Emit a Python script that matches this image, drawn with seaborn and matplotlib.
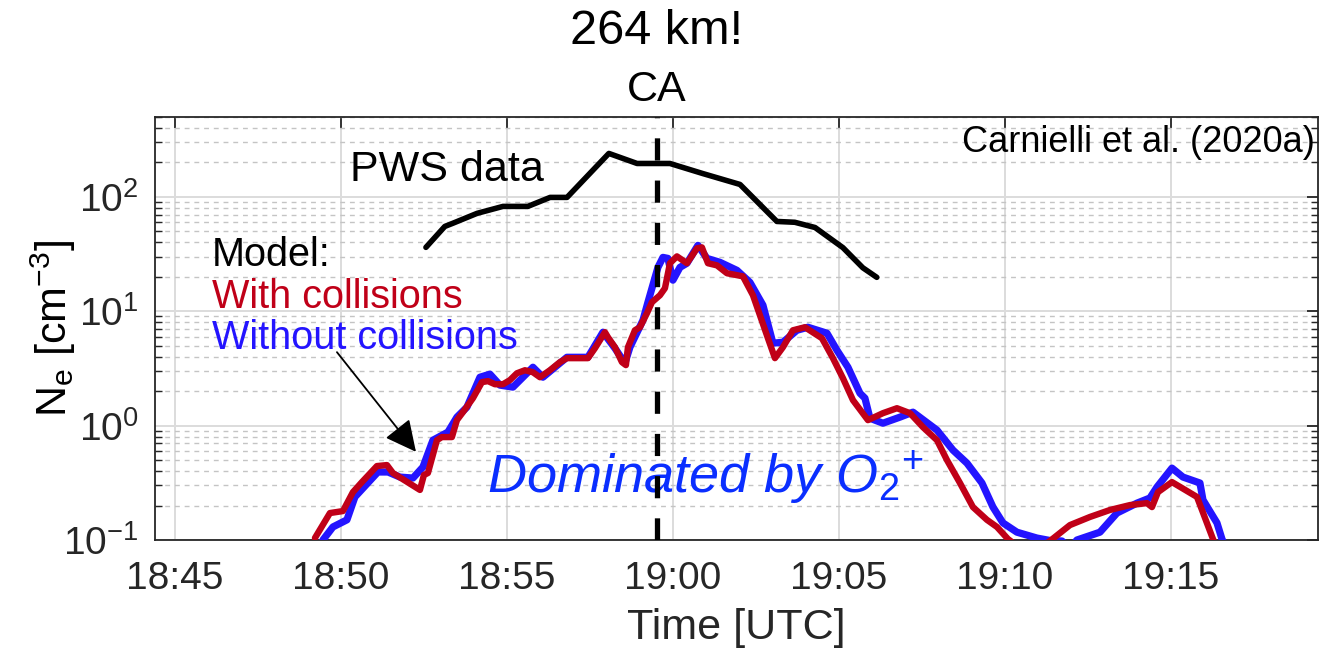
import numpy as np
import pandas as pd
import matplotlib
matplotlib.use("Agg")
import matplotlib.pyplot as plt
import matplotlib.ticker as mticker
import seaborn as sns

# ---------------- data (time in minutes after 18:45 UTC) ----------------
pws_t = [7.56, 8.13, 8.37, 9.10, 9.88, 10.63, 11.30, 11.81, 13.07, 13.92, 14.91,
         15.90, 17.02, 18.13, 18.67, 19.28, 20.12, 20.72, 21.14]
pws_ne = [36.2, 55.2, 58.8, 71.8, 82.6, 82.6, 99.0, 99.0, 240, 196, 196,
          160, 128.5, 61, 60, 54, 36, 24, 19.8]

red_t = [4.217, 4.669, 5.060, 5.361, 5.633, 6.084, 6.386, 6.566, 7.380, 7.500, 7.620,
         7.892, 8.042, 8.343, 8.494, 8.675, 8.976, 9.247, 9.428, 9.639, 9.880, 10.090,
         10.301, 10.542, 10.783, 10.994, 11.295, 11.596, 11.807, 12.440, 12.651, 12.952,
         13.042, 13.253, 13.464, 13.584, 13.645, 13.855, 14.006, 14.217, 14.367, 14.608,
         14.759, 14.910, 15.120, 15.422, 15.723, 15.873, 16.054, 16.325, 16.627, 17.108,
         17.410, 17.620, 17.861, 18.072, 18.313, 18.614, 18.976, 19.488, 19.819, 20.120,
         20.422, 20.873, 21.325, 21.747, 22.139, 22.530, 22.952, 23.253, 23.645, 24.036,
         24.458, 24.759, 25.090, 25.452, 25.900, 26.355, 26.958, 27.560, 28.163, 28.765,
         29.277, 29.428, 29.608, 30.030, 30.783, 30.934, 31.265, 31.416]
red_ne = [0.104, 0.172, 0.179, 0.262, 0.321, 0.443, 0.452, 0.385, 0.274, 0.370, 0.385,
          0.746, 0.794, 0.794, 1.117, 1.312, 1.738, 2.40, 2.45, 2.30, 2.30, 2.50,
          2.87, 3.05, 2.93, 2.65, 3.05, 3.59, 3.89, 3.89, 4.75, 6.56,
          5.93, 4.85, 3.59, 3.38, 4.85, 6.82, 7.25, 9.61, 12.0, 13.8,
          15.9, 26.3, 30.2, 26.3, 35.5, 36.2, 26.3, 25.2, 21.5, 20.2,
          13.8, 9.23, 5.81, 3.89, 4.85, 6.82, 7.25, 5.81, 3.89, 2.60,
          1.67, 1.117, 1.285, 1.42, 1.285, 0.97, 0.746, 0.50, 0.315, 0.194,
          0.150, 0.130, 0.102, 0.085, 0.080, 0.098, 0.135, 0.159, 0.183, 0.202,
          0.210, 0.194, 0.262, 0.321, 0.238, 0.183, 0.102, 0.082]

blue_t = [4.458, 4.759, 5.181, 5.422, 6.114, 6.416, 6.777, 7.169, 7.470, 7.771, 8.223,
          8.494, 8.795, 9.187, 9.488, 9.789, 10.181, 10.783, 11.084, 11.807, 12.440,
          12.892, 13.253, 13.554, 13.705, 14.096, 14.247, 14.548, 14.699, 14.849, 15.000,
          15.211, 15.422, 15.753, 16.024, 16.416, 16.928, 17.319, 17.711, 18.012, 18.313,
          18.735, 19.066, 19.639, 19.940, 20.271, 20.633, 20.783, 20.934, 21.325, 21.837,
          22.229, 22.952, 23.434, 23.855, 24.307, 24.639, 24.940, 25.361, 25.964, 26.355,
          26.717, 26.958, 27.169, 27.861, 28.373, 28.976, 29.367, 29.578, 30.030, 30.361,
          30.873, 30.964, 31.386, 31.536, 31.657]
blue_ne = [0.100, 0.130, 0.150, 0.238, 0.393, 0.393, 0.355, 0.348, 0.434, 0.746, 0.878,
           1.186, 1.45, 2.65, 2.82, 2.26, 2.17, 3.24, 2.65, 3.96, 3.96,
           6.56, 4.75, 3.52, 4.85, 8.34, 12.0, 24.2, 29.6, 29.0, 18.7,
           24.2, 26.3, 37.7, 29.0, 26.8, 22.8, 17.9, 11.3, 5.26, 5.36,
           6.82, 7.25, 6.43, 4.56, 3.24, 1.92, 1.738, 1.16, 1.05, 1.186,
           1.312, 0.914, 0.611, 0.470, 0.315, 0.194, 0.141, 0.117, 0.104, 0.099,
           0.098, 0.085, 0.100, 0.117, 0.172, 0.210, 0.233, 0.290, 0.425, 0.355,
           0.315, 0.224, 0.141, 0.102, 0.085]

ca_t = 14.53
tick_minutes = [0, 5, 10, 15, 20, 25, 30]
tick_labels = ["18:45", "18:50", "18:55", "19:00", "19:05", "19:10", "19:15"]

# ---------------- style ----------------
sns.set_theme(style="white")
plt.rcParams["font.family"] = ["Liberation Sans", "DejaVu Sans"]
plt.rcParams["mathtext.fontset"] = "custom"
plt.rcParams["mathtext.rm"] = "Liberation Sans"
plt.rcParams["mathtext.it"] = "Liberation Sans:italic"
plt.rcParams["mathtext.bf"] = "Liberation Sans:bold"

fig = plt.figure(figsize=(13.35, 6.52), dpi=100)
ax = fig.add_axes([0.1161, 0.1718, 0.8712, 0.6488])

blue_df = pd.DataFrame({"t": blue_t, "ne": blue_ne})
red_df = pd.DataFrame({"t": red_t, "ne": red_ne})
pws_df = pd.DataFrame({"t": pws_t, "ne": pws_ne})

sns.lineplot(data=blue_df, x="t", y="ne", ax=ax, color="#2414FF", lw=5.2,
             estimator=None, sort=False, zorder=3)
sns.lineplot(data=red_df, x="t", y="ne", ax=ax, color="#C00018", lw=4.6,
             estimator=None, sort=False, zorder=4)
sns.lineplot(data=pws_df, x="t", y="ne", ax=ax, color="black", lw=4.0,
             estimator=None, sort=False, zorder=4)
for ln in ax.get_lines():
    ln.set_solid_joinstyle("round")
    ln.set_solid_capstyle("round")

ax.axvline(ca_t, color="black", lw=3.8, dashes=(4.2, 3.8), zorder=5)

ax.set_yscale("log")
ax.set_ylim(0.1, 500)
ax.set_xlim(-0.6, 34.43)

ax.set_xticks(tick_minutes)
ax.set_xticklabels(tick_labels)
ax.yaxis.set_major_locator(mticker.LogLocator(base=10, numticks=10))
ax.yaxis.set_minor_locator(mticker.LogLocator(base=10, subs=np.arange(2, 10), numticks=20))
ax.yaxis.set_minor_formatter(mticker.NullFormatter())

ax.grid(which="major", color="#dcdcdc", lw=1.4, ls="-", zorder=0)
ax.grid(which="minor", axis="y", color="#c4c4c4", lw=1.0, ls=(0, (3.5, 3.5)), zorder=0)
ax.set_axisbelow(True)

ax.tick_params(axis="both", which="major", direction="in", length=8, width=1.3,
               top=True, right=True, labelsize=28, colors="#262626")
ax.tick_params(axis="x", which="major", pad=15)
ax.tick_params(axis="y", which="major", pad=12)
ax.tick_params(axis="y", which="minor", direction="in", length=5, width=1.0,
               left=True, right=True, colors="#262626")
for sp in ax.spines.values():
    sp.set_color("#262626")
    sp.set_linewidth(1.3)

ax.set_xlabel("Time [UTC]", fontsize=31, color="#262626")
ax.set_ylabel(r"N$_\mathrm{e}$ [cm$^{-3}$]", fontsize=31, color="black")
ax.xaxis.set_label_coords(0.5, -0.16)
ax.yaxis.set_label_coords(-0.066, 0.50)

# ---------------- annotations ----------------
fig.text(0.492, 0.951, "264 km!", ha="center", va="center", fontsize=35, color="black")
fig.text(0.492, 0.862, "CA", ha="center", va="center", fontsize=31, color="black")

ax.text(0.997, 0.9385, "Carnielli et al. (2020a)", transform=ax.transAxes,
        ha="right", va="center", fontsize=26, color="black")
ax.text(0.1677, 0.875, "PWS data", transform=ax.transAxes,
        ha="left", va="center", fontsize=31, color="black")
ax.text(0.049, 0.674, "Model:", transform=ax.transAxes,
        ha="left", va="center", fontsize=28.5, color="black")
ax.text(0.049, 0.574, "With collisions", transform=ax.transAxes,
        ha="left", va="center", fontsize=28.5, color="#C00018")
ax.text(0.049, 0.4775, "Without collisions", transform=ax.transAxes,
        ha="left", va="center", fontsize=28.5, color="#2414FF")
ax.text(0.2855, 0.147, r"$\mathit{Dominated\ by\ O}_{2}{}^{+}$", transform=ax.transAxes,
        ha="left", va="center", fontsize=39, color="#0A2EFF")

ax.annotate("", xy=(7.26, 0.59), xytext=(4.88, 4.39),
            arrowprops=dict(arrowstyle="-|>", color="black", lw=1.3,
                            mutation_scale=48, shrinkA=0, shrinkB=0), zorder=6)

fig.savefig("out.png", dpi=100)
